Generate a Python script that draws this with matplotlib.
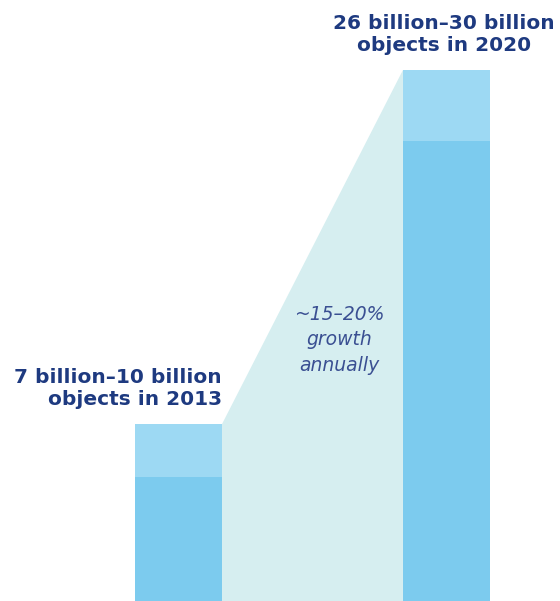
import numpy as np
import matplotlib
matplotlib.use('Agg')
import matplotlib.pyplot as plt

# data (billions of connected objects)
years = ['2013', '2020']
low = [7, 26]
high = [10, 30]
growth_text = '~15–20%\ngrowth\nannually'

light = '#9dd9f3'
dark = '#7ccbee'
teal = '#d6eef0'
navy = '#1e3a80'

fig = plt.figure(figsize=(5.6, 6.01), dpi=100)
ax = fig.add_axes([0, 0, 1, 1])
x = np.arange(len(years))
w = 0.325

# shaded growth band between bars
ax.fill([x[0] + w/2, x[0] + w/2, x[1] - w/2, x[1] - w/2],
        [0, high[0], high[1], 0], color=teal, lw=0, zorder=1)

ax.bar(x, high, width=w, color=light, zorder=2)
ax.bar(x, low, width=w, color=dark, zorder=3)

ax.text(x[0] + w/2, high[0] + 0.85,
        '7 billion–10 billion\nobjects in 2013',
        ha='right', va='bottom', fontsize=14.5, fontweight='bold',
        color=navy, linespacing=1.2)
ax.text(x[1] - 0.01, high[1] + 0.85,
        '26 billion–30 billion\nobjects in 2020',
        ha='center', va='bottom', fontsize=14.5, fontweight='bold',
        color=navy, linespacing=1.2)
ax.text(0.599, 14.75, growth_text, ha='center', va='center',
        fontsize=13.5, style='italic', color='#3a4f92', linespacing=1.45)

ax.set_xlim(-0.666, 1.4235)
ax.set_ylim(0, 601 / 17.7)
ax.axis('off')

fig.savefig('out.png', dpi=100)
